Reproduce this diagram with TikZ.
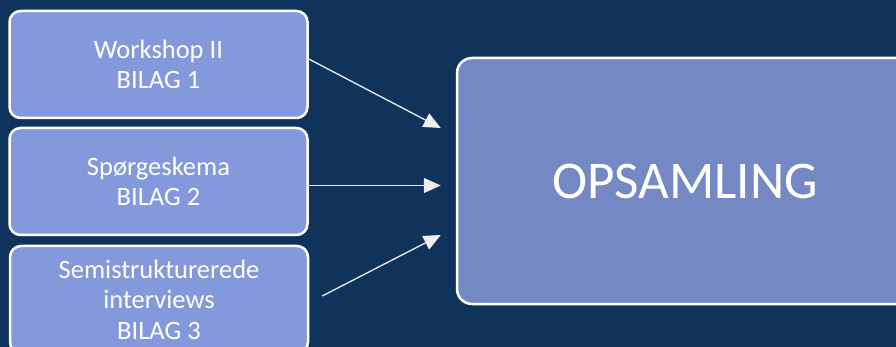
\documentclass[tikz,border=0pt]{standalone}
\usepackage{fontspec}
\setmainfont{Carlito}
\usetikzlibrary{arrows.meta}
\definecolor{bgnavy}{HTML}{10335C}
\definecolor{srcfill}{HTML}{8499DC}
\definecolor{sumfill}{HTML}{7489C4}
\definecolor{arrowgrey}{HTML}{EFEFEF}

\begin{document}
\begin{tikzpicture}[x=1pt,y=-1pt,
  srcbox/.style={draw=white, line width=2.5pt, fill=srcfill, rounded corners=11pt,
    minimum width=298pt, minimum height=107pt, inner sep=0pt, align=center,
    text=white, font=\fontsize{26.5}{30.5}\selectfont},
  sumbox/.style={draw=white, line width=2.5pt, fill=sumfill, rounded corners=15pt,
    minimum width=456pt, minimum height=246pt, inner sep=0pt, align=center,
    text=white, font=\fontsize{53}{60}\selectfont},
  feed/.style={draw=arrowgrey, line width=1.3pt, -{Triangle[length=17pt,width=15pt]}}]
  % page background and frame
  \fill[bgnavy] (0,0) rectangle (896,347);
  \useasboundingbox (0,0) rectangle (896,347);
  \clip (0,0) rectangle (896,347);

  % source boxes
  \node[srcbox] (b1) at (158.5,64.5) {Workshop II\\BILAG 1};
  \node[srcbox] (b2) at (158.5,181.5) {Spørgeskema\\BILAG 2};
  \node[srcbox] (b3) at (159,299.5) {Semistrukturerede\\interviews\\BILAG 3};

  % summary box
  \node[sumbox] (sum) at (685,181) {OPSAMLING};

  % arrow end points
  \coordinate (s1) at ([yshift=5.5pt]b1.east);
  \coordinate (t1) at ([xshift=-15pt,yshift=53pt]sum.west);
  \coordinate (s2) at ([yshift=-4pt]b2.east);
  \coordinate (t2) at ([xshift=-15pt]sum.west |- s2);
  \coordinate (s3) at ([xshift=13pt,yshift=3.5pt]b3.east);
  \coordinate (t3) at ([xshift=-15pt,yshift=-54pt]sum.west);

  \draw[feed] (s1) -- (t1);
  \draw[feed] (s2) -- (t2);
  \draw[feed] (s3) -- (t3);
\end{tikzpicture}
\end{document}
